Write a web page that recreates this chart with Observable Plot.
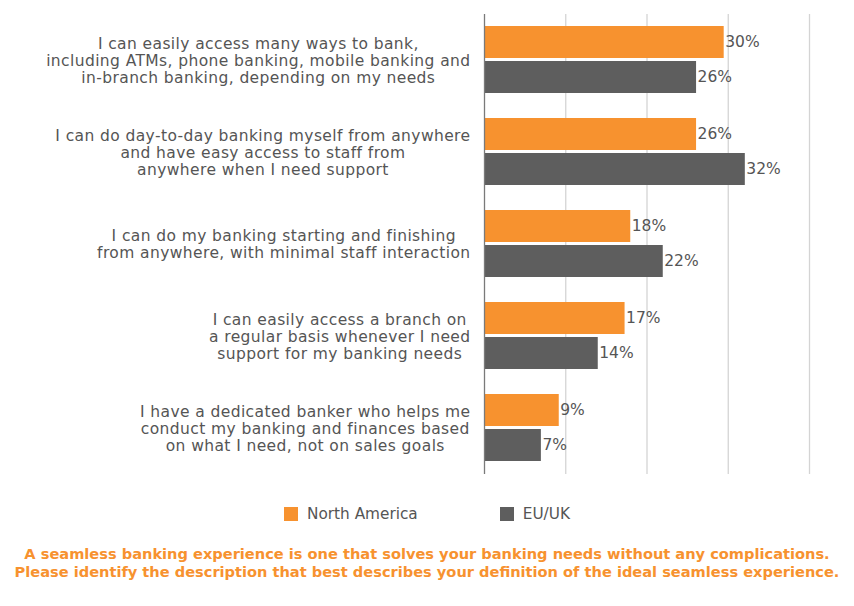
<!DOCTYPE html>
<html><head><meta charset="utf-8">
<script src="https://cdn.jsdelivr.net/npm/d3@7"></script>
<script src="https://cdn.jsdelivr.net/npm/@observablehq/plot@0.6"></script>
<style>
body{margin:0;background:#fff;font-family:"DejaVu Sans",sans-serif;}
#chart{width:854px;height:480px;}
.legend{display:flex;justify-content:center;gap:82px;margin-top:24px;font-size:15.3px;color:#555;height:20px;align-items:center;}
.legend .item{display:flex;align-items:center;}
.legend .sw{width:14px;height:14px;margin-right:9px;display:inline-block;}
.caption{text-align:center;color:#F7922F;font-weight:700;font-size:14.6px;line-height:18px;margin-top:21px;}
</style></head><body>
<div id="chart"></div>
<div class="legend" id="legend"></div>
<div class="caption" id="caption"></div>
<script>
const categories = [
  "I can easily access many ways to bank,\nincluding ATMs, phone banking, mobile banking and\nin-branch banking, depending on my needs",
  "I can do day-to-day banking myself from anywhere\nand have easy access to staff from\nanywhere when I need support",
  "I can do my banking starting and finishing\nfrom anywhere, with minimal staff interaction",
  "I can easily access a branch on\na regular basis whenever I need\nsupport for my banking needs",
  "I have a dedicated banker who helps me\nconduct my banking and finances based\non what I need, not on sales goals"
];
const seriesNames = ["North America", "EU/UK"];
const northAmerica = [29.5, 26.1, 18, 17.3, 9.2];
const euUk = [26.1, 32.1, 22, 14, 7];
const gridTicks = [0, 10, 20, 30, 40];
const colors = ["#F7922F", "#5E5E5E"];
const captionLines = [
  "A seamless banking experience is one that solves your banking needs without any complications.",
  "Please identify the description that best describes your definition of the ideal seamless experience."
];

const rows = categories.flatMap((c, i) => [
  {category: c, series: seriesNames[0], value: northAmerica[i]},
  {category: c, series: seriesNames[1], value: euUk[i]}
]);

const plot = Plot.plot({
  width: 854, height: 480,
  marginLeft: 484, marginRight: 45, marginTop: 14, marginBottom: 6,
  x: {domain: [gridTicks[0], gridTicks[gridTicks.length - 1]], axis: null},
  y: {domain: seriesNames, axis: null, paddingInner: 0.083, paddingOuter: 0.32},
  fy: {domain: categories, axis: null, padding: 0},
  color: {domain: seriesNames, range: colors},
  style: {fontFamily: "'DejaVu Sans', sans-serif", fontSize: "15px", color: "#555", background: "#fff"},
  marks: [
    Plot.ruleX(gridTicks.slice(1), {stroke: "#d4d4d4", strokeWidth: 1.3}),
    Plot.barX(rows, {x: "value", y: "series", fy: "category", fill: "series"}),
    Plot.ruleX([gridTicks[0]], {stroke: "#7a7a7a", strokeWidth: 1.3}),
    Plot.text(rows, {x: "value", y: "series", fy: "category", text: d => Math.round(d.value) + "%", textAnchor: "start", dx: 1, fill: "#555", fontSize: 15.5}),
    Plot.text(categories, {fy: d => d, text: d => d, frameAnchor: "left", textAnchor: "end", dx: -14, fill: "#555", fontSize: 15.5, lineHeight: 1.1})
  ]
});
document.getElementById("chart").appendChild(plot);

// center each multi-line label block, keeping its widest line's right edge at the anchor
plot.querySelectorAll("text").forEach(t => {
  const spans = t.querySelectorAll("tspan");
  if (spans.length < 2) return;
  t.style.letterSpacing = "0.4px";
  const w = t.getBBox().width;
  t.setAttribute("text-anchor", "middle");
  spans.forEach(s => s.setAttribute("x", -w / 2));
});

const legend = document.getElementById("legend");
seriesNames.forEach((s, i) => {
  const item = document.createElement("div");
  item.className = "item";
  const sw = document.createElement("span");
  sw.className = "sw";
  sw.style.background = colors[i];
  item.appendChild(sw);
  item.appendChild(document.createTextNode(s));
  legend.appendChild(item);
});
document.getElementById("caption").innerHTML = captionLines.map(l => `<div>${l}</div>`).join("");
</script>
</body></html>
